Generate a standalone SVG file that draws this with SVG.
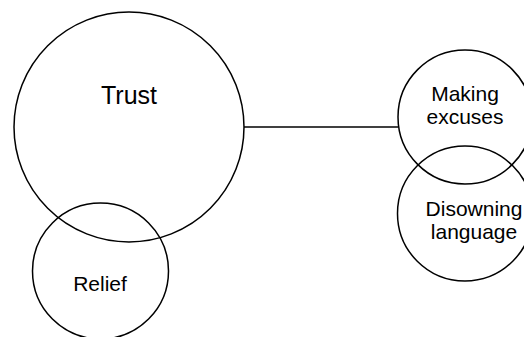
<svg xmlns="http://www.w3.org/2000/svg" width="524" height="337" viewBox="0 0 524 337">
<style>
.c{fill:none;stroke:#000;stroke-width:1.5}
.t{font-family:"Liberation Sans",Arial,sans-serif;fill:#000;text-anchor:middle}
</style>
<rect width="524" height="337" fill="#fff"/>
<g id="connectors">
<line x1="244" y1="127" x2="398" y2="127" stroke="#000" stroke-width="1.5"/>
</g>
<g id="trust">
<circle class="c" cx="129" cy="127" r="115"/>
<text class="t" x="129" y="104" font-size="25">Trust</text>
</g>
<g id="relief">
<circle class="c" cx="100.5" cy="271" r="68"/>
<text class="t" x="100" y="291" font-size="21">Relief</text>
</g>
<g id="making-excuses">
<circle class="c" cx="465" cy="117" r="67"/>
<text class="t" x="465" y="101" font-size="21">Making</text>
<text class="t" x="465" y="124" font-size="21">excuses</text>
</g>
<g id="disowning-language">
<circle class="c" cx="465" cy="213.5" r="67.5"/>
<text class="t" x="474" y="216" font-size="21">Disowning</text>
<text class="t" x="474" y="239" font-size="21">language</text>
</g>
</svg>
